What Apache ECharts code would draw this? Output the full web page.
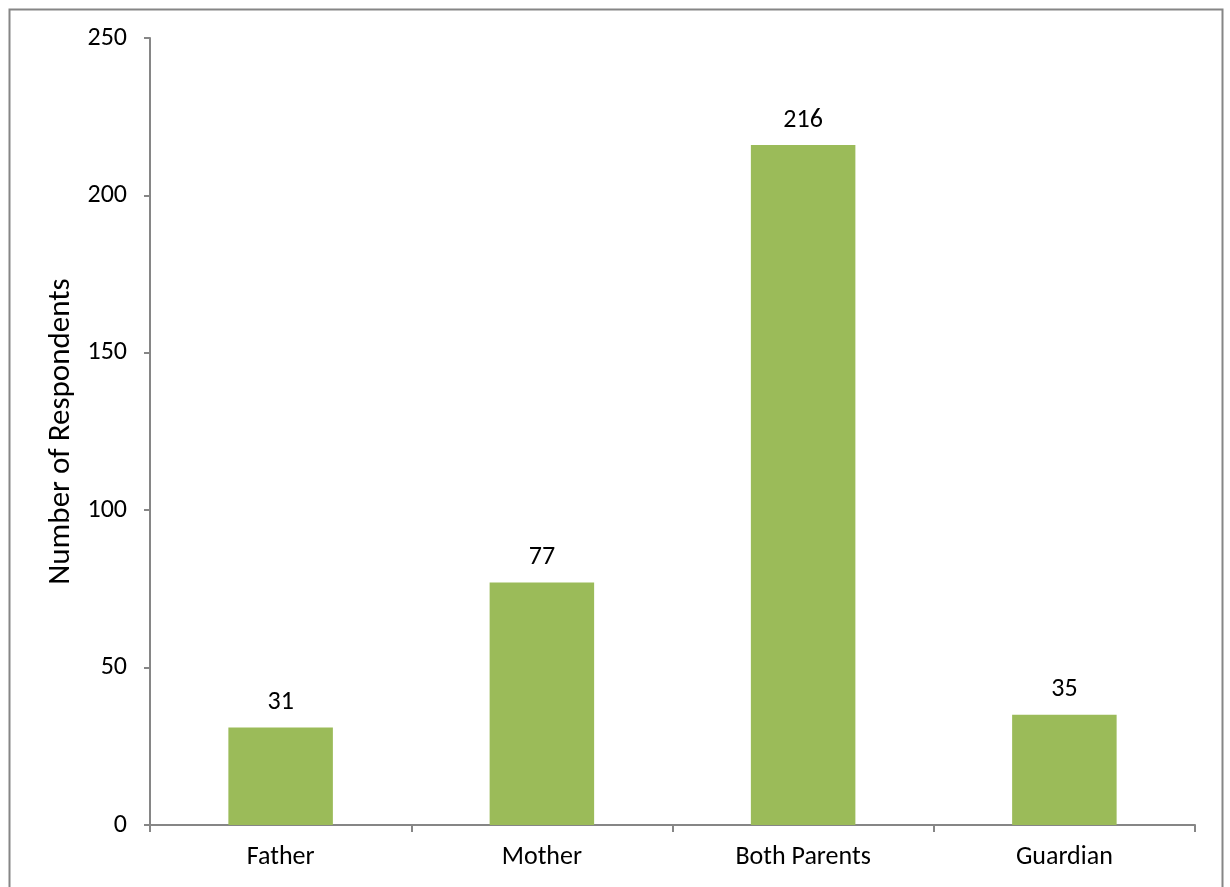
<!DOCTYPE html>
<html>
<head>
<meta charset="utf-8">
<script src="https://cdn.jsdelivr.net/npm/echarts@6/dist/echarts.min.js"></script>
<style>
html,body{margin:0;padding:0;background:#fff;}
#chart{width:1230px;height:887px;}
</style>
</head>
<body>
<div id="chart"></div>
<script>
const categories = ['Father', 'Mother', 'Both Parents', 'Guardian'];
const respondents = [31, 77, 216, 35];
const yTicks = [0, 50, 100, 150, 200, 250];

const chart = echarts.init(document.getElementById('chart'));
const font = 'Carlito, "Open Sans", "Liberation Sans", sans-serif';
chart.setOption({
  animation: false,
  backgroundColor: '#ffffff',
  graphic: [{
    type: 'rect',
    shape: { x: 9.5, y: 9.5, width: 1213, height: 900 },
    style: { fill: 'none', stroke: '#868686', lineWidth: 2 },
    silent: true
  }],
  grid: { left: 150, top: 38, right: 35, bottom: 62, containLabel: false },
  xAxis: {
    type: 'category',
    data: categories,
    axisLine: { lineStyle: { color: '#868686', width: 2 } },
    axisTick: { show: true, length: 7, alignWithLabel: false, lineStyle: { color: '#868686', width: 2 } },
    axisLabel: { color: '#000', fontSize: 26, fontFamily: font, margin: 19 }
  },
  yAxis: {
    type: 'value',
    min: yTicks[0],
    max: yTicks[yTicks.length - 1],
    interval: 50,
    name: 'Number of Respondents',
    nameLocation: 'middle',
    nameGap: 73,
    nameTextStyle: { color: '#000', fontSize: 31, fontFamily: font },
    axisLine: { show: true, lineStyle: { color: '#868686', width: 2 } },
    axisTick: { show: true, length: 6, lineStyle: { color: '#868686', width: 2 } },
    splitLine: { show: false },
    axisLabel: { color: '#000', fontSize: 26, fontFamily: font, margin: 23 }
  },
  series: [{
    type: 'bar',
    data: respondents,
    barWidth: '40%',
    itemStyle: { color: '#9BBB59' },
    label: { show: true, position: 'top', distance: 12, color: '#000', fontSize: 26, fontFamily: font }
  }]
});
</script>
</body>
</html>
